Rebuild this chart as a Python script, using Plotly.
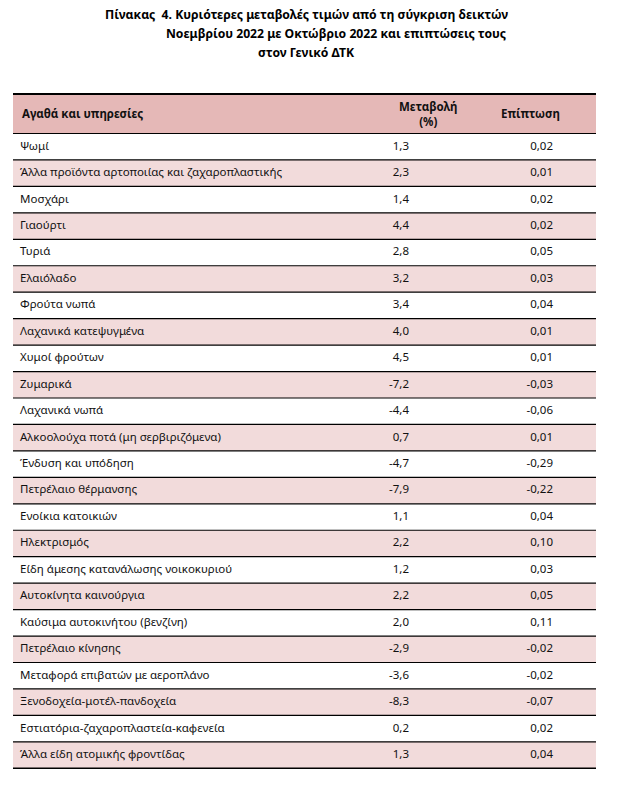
import plotly.graph_objects as go

categories = [
    "Ψωμί",
    "Άλλα προϊόντα αρτοποιίας και ζαχαροπλαστικής",
    "Μοσχάρι",
    "Γιαούρτι",
    "Τυριά",
    "Ελαιόλαδο",
    "Φρούτα νωπά",
    "Λαχανικά κατεψυγμένα",
    "Χυμοί φρούτων",
    "Ζυμαρικά",
    "Λαχανικά νωπά",
    "Αλκοολούχα ποτά (μη σερβιριζόμενα)",
    "Ένδυση και υπόδηση",
    "Πετρέλαιο θέρμανσης",
    "Ενοίκια κατοικιών",
    "Ηλεκτρισμός",
    "Είδη άμεσης κατανάλωσης νοικοκυριού",
    "Αυτοκίνητα καινούργια",
    "Καύσιμα αυτοκινήτου (βενζίνη)",
    "Πετρέλαιο κίνησης",
    "Μεταφορά επιβατών με αεροπλάνο",
    "Ξενοδοχεία-μοτέλ-πανδοχεία",
    "Εστιατόρια-ζαχαροπλαστεία-καφενεία",
    "Άλλα είδη ατομικής φροντίδας",
]
change_pct = [1.3, 2.3, 1.4, 4.4, 2.8, 3.2, 3.4, 4.0, 4.5, -7.2, -4.4, 0.7,
              -4.7, -7.9, 1.1, 2.2, 1.2, 2.2, 2.0, -2.9, -3.6, -8.3, 0.2, 1.3]
impact = [0.02, 0.01, 0.02, 0.02, 0.05, 0.03, 0.04, 0.01, 0.01, -0.03, -0.06, 0.01,
          -0.29, -0.22, 0.04, 0.10, 0.03, 0.05, 0.11, -0.02, -0.02, -0.07, 0.02, 0.04]
headers = ["Αγαθά και υπηρεσίες", "Μεταβολή<br>(%)", "Επίπτωση"]
title_lines = [
    "Πίνακας  4. Κυριότερες μεταβολές τιμών από τη σύγκριση δεικτών",
    "Νοεμβρίου 2022 με Οκτώβριο 2022 και επιπτώσεις τους",
    "στον Γενικό ΔΤΚ",
]

W, H = 619, 786
TOP, HEAD_H, ROW_H = 94, 39.5, 26.45
X0, X1 = 13, 596
HEAD_FILL = "#E5B8B7"
ROW_FILL = "#F2DBDB"
BODY_FONT = "Noto Sans"
TXT = "#111111"

n = len(categories)
body_top = TOP + HEAD_H
yc = [body_top + ROW_H * (i + 0.5) for i in range(n)]

def fmt(v, d):
    return f"{v:.{d}f}".replace(".", ",")

fig = go.Figure()

shapes = []
shapes.append(dict(type="rect", xref="x", yref="y", x0=X0, x1=X1, y0=TOP, y1=body_top,
                   fillcolor=HEAD_FILL, line_width=0, layer="below"))
for i in range(n):
    if i % 2 == 1:
        shapes.append(dict(type="rect", xref="x", yref="y", x0=X0, x1=X1,
                           y0=body_top + ROW_H * i, y1=body_top + ROW_H * (i + 1),
                           fillcolor=ROW_FILL, line_width=0, layer="below"))
shapes.append(dict(type="line", xref="x", yref="y", x0=X0, x1=X1, y0=TOP, y1=TOP,
                   line=dict(color="black", width=2)))
for k in range(n + 1):
    yy = body_top + ROW_H * k
    shapes.append(dict(type="line", xref="x", yref="y", x0=X0, x1=X1, y0=yy, y1=yy,
                       line=dict(color="black", width=1.6 if k == n else 1.2)))

bfont = dict(family=BODY_FONT, size=11.5, color=TXT)
fig.add_trace(go.Scatter(x=[20] * n, y=yc, mode="text", text=categories,
                         textposition="middle right", textfont=bfont,
                         hoverinfo="skip", showlegend=False))
fig.add_trace(go.Scatter(x=[409] * n, y=yc, mode="text", text=[fmt(v, 1) for v in change_pct],
                         textposition="middle left", textfont=bfont,
                         hoverinfo="skip", showlegend=False))
fig.add_trace(go.Scatter(x=[553] * n, y=yc, mode="text", text=[fmt(v, 2) for v in impact],
                         textposition="middle left", textfont=bfont,
                         hoverinfo="skip", showlegend=False))

hfont = dict(family=BODY_FONT, size=11.5, color=TXT, weight="bold")
hy = TOP + HEAD_H / 2
annotations = [
    dict(x=20, y=hy, text=headers[0], xanchor="left", yanchor="middle", font=hfont),
    dict(x=428, y=hy, text=headers[1], xanchor="center", yanchor="middle", font=hfont),
    dict(x=530, y=hy, text=headers[2], xanchor="center", yanchor="middle", font=hfont),
]
tfont = dict(family=BODY_FONT, size=12.2, color="black", weight="bold")
annotations += [
    dict(x=103, y=14, text=title_lines[0], xanchor="left", yanchor="middle", font=tfont),
    dict(x=508, y=33, text=title_lines[1], xanchor="right", yanchor="middle", font=tfont),
    dict(x=256, y=52, text=title_lines[2], xanchor="left", yanchor="middle", font=tfont),
]
for a in annotations:
    a.update(xref="x", yref="y", showarrow=False)

fig.update_layout(
    width=W, height=H, margin=dict(l=0, r=0, t=0, b=0),
    paper_bgcolor="white", plot_bgcolor="white",
    xaxis=dict(range=[0, W], visible=False, fixedrange=True),
    yaxis=dict(range=[H, 0], visible=False, fixedrange=True),
    shapes=shapes, annotations=annotations,
)
fig.write_html("out.html",
               config={"displayModeBar": False},
               post_script="document.body.style.margin='0';document.body.style.overflow='hidden';")
